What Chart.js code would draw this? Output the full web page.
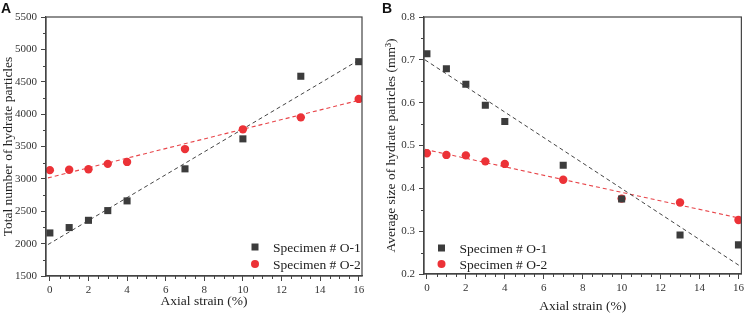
<!DOCTYPE html>
<html>
<head>
<meta charset="utf-8">
<script src="https://cdn.jsdelivr.net/npm/chart.js@4/dist/chart.umd.min.js"></script>
<style>
  html, body { margin: 0; padding: 0; background: #fff; }
  #wrap { position: relative; width: 747px; height: 318px; }
  canvas { position: absolute; top: 0; }
  #cA { left: 0; }
  #cB { left: 374px; }
  .tag { position: absolute; top: 0; font: bold 14px "Liberation Sans", Arial, sans-serif; color: #111; }
</style>
</head>
<body>
<div id="wrap">
  <canvas id="cA" width="373" height="318"></canvas>
  <canvas id="cB" width="373" height="318"></canvas>
  <div class="tag" style="left:1px">A</div>
  <div class="tag" style="left:382px">B</div>
</div>
<script>
const strain = [0, 1, 2, 3, 4, 7, 10, 13, 16];
const countO1 = [2165, 2248, 2360, 2510, 2660, 3155, 3618, 4585, 4810];
const countO2 = [3135, 3140, 3148, 3232, 3262, 3460, 3765, 3950, 4235];
const sizeO1 = [0.714, 0.679, 0.643, 0.594, 0.556, 0.454, 0.375, 0.291, 0.268];
const sizeO2 = [0.482, 0.478, 0.477, 0.463, 0.457, 0.420, 0.376, 0.367, 0.326];

const fitX = [-0.1, 16.1];
const fitCountO1 = [1985, 4850];
const fitCountO2 = [3015, 4220];
const fitSizeO1 = [0.700, 0.218];
const fitSizeO2 = [0.491, 0.330];

const xTicks = [0, 2, 4, 6, 8, 10, 12, 14, 16];
const yTicksA = [1500, 2000, 2500, 3000, 3500, 4000, 4500, 5000, 5500];
const yTicksB = [0.2, 0.3, 0.4, 0.5, 0.6, 0.7, 0.8];

const seriesNames = ['Specimen # O-1', 'Specimen # O-2'];
const SERIF = '"Liberation Serif", "Times New Roman", serif';
const AXIS = '#444';
const GRAY = '#3c3c3c';
const RED = '#ec3237';

const pts = (xs, ys) => xs.map((x, i) => ({ x: x, y: ys[i] }));

// frame, minor ticks and the inside legend
const extras = {
  id: 'extras',
  afterDraw(chart, args, opts) {
    const { ctx, chartArea: a, scales } = chart;
    ctx.save();
    ctx.strokeStyle = AXIS;
    ctx.lineWidth = 1.2;
    ctx.strokeRect(a.left, a.top, a.right - a.left, a.bottom - a.top);

    ctx.lineWidth = 1;
    ctx.beginPath();
    for (let v = 0; v <= 16; v += 0.5) {
      if (v % 2 === 0) continue;
      const px = Math.round(scales.x.getPixelForValue(v)) + 0.5;
      ctx.moveTo(px, a.bottom);
      ctx.lineTo(px, a.bottom + 3);
    }
    const yt = opts.yTicks;
    const half = (yt[1] - yt[0]) / 2;
    for (let i = 0; i < yt.length - 1; i++) {
      const py = Math.round(scales.y.getPixelForValue(yt[i] + half)) + 0.5;
      ctx.moveTo(a.left, py);
      ctx.lineTo(a.left - 3, py);
    }
    ctx.stroke();

    // legend
    const lx = opts.legendRight ? a.right - opts.legendX : a.left + opts.legendX;
    ctx.font = '13.5px ' + SERIF;
    ctx.textBaseline = 'middle';
    [0, 1].forEach(i => {
      const ds = chart.data.datasets[i];
      const ly = a.bottom - opts.legendY[i];
      ctx.fillStyle = ds.backgroundColor;
      if (ds.pointStyle === 'rect') {
        ctx.fillRect(lx - 3.5, ly - 3.5, 7, 7);
      } else {
        ctx.beginPath();
        ctx.arc(lx, ly, 4, 0, Math.PI * 2);
        ctx.fill();
      }
      ctx.fillStyle = '#222';
      ctx.fillText(ds.label, lx + 18, ly + 1);
    });
    ctx.restore();
  }
};

function makeChart(id, o1, o2, f1, f2, yMin, yMax, yTicks, yTitle, cfg) {
  return new Chart(document.getElementById(id), {
    type: 'scatter',
    data: {
      datasets: [
        { label: seriesNames[0], data: pts(strain, o1), pointStyle: 'rect', pointRadius: 5,
          backgroundColor: GRAY, borderColor: GRAY, borderWidth: 0 },
        { label: seriesNames[1], data: pts(strain, o2), pointStyle: 'circle', pointRadius: 4.2,
          backgroundColor: RED, borderColor: RED, borderWidth: 0 },
        { type: 'line', data: pts(fitX, f1), borderColor: '#444', borderWidth: 1,
          borderDash: [4, 3], pointRadius: 0, fill: false },
        { type: 'line', data: pts(fitX, f2), borderColor: '#e8454a', borderWidth: 1.1,
          borderDash: [4, 3], pointRadius: 0, fill: false }
      ]
    },
    options: {
      responsive: false,
      animation: false,
      layout: { padding: { top: 17, right: cfg.padRight, left: 0, bottom: 0 } },
      plugins: {
        legend: { display: false },
        tooltip: { enabled: false },
        extras: { yTicks: yTicks, legendX: cfg.legendX, legendRight: cfg.legendRight, legendY: cfg.legendY }
      },
      scales: {
        x: {
          type: 'linear', min: cfg.xMin, max: cfg.xMax,
          afterBuildTicks: s => { s.ticks = xTicks.map(v => ({ value: v })); },
          afterFit: s => { s.height = cfg.xHeight; },
          grid: { drawOnChartArea: false, drawTicks: true, tickLength: 5, color: AXIS },
          border: { display: true, color: AXIS, width: 1.2 },
          ticks: { color: '#333', padding: 3, font: { family: SERIF, size: 11 } },
          title: { display: true, text: 'Axial strain (%)', color: '#222',
            font: { family: SERIF, size: 13.5 }, padding: { top: 0, bottom: cfg.xTitlePad } }
        },
        y: {
          type: 'linear', min: yMin, max: yMax,
          afterBuildTicks: s => { s.ticks = yTicks.map(v => ({ value: v })); },
          afterFit: s => { s.width = cfg.yWidth; },
          grid: { drawOnChartArea: false, drawTicks: true, tickLength: 5, color: AXIS },
          border: { display: true, color: AXIS, width: 1.2 },
          ticks: { color: '#333', padding: 4, font: { family: SERIF, size: 11 },
            callback: v => cfg.decimals ? v.toFixed(1) : v },
          title: { display: true, text: yTitle, color: '#222',
            font: { family: SERIF, size: 13.5 }, padding: { top: cfg.yTitlePad, bottom: 0 } }
        }
      }
    },
    plugins: [extras]
  });
}

makeChart('cA', countO1, countO2, fitCountO1, fitCountO2, 1500, 5500, yTicksA,
  'Total number of hydrate particles',
  { padRight: 11, xMin: -0.2, xMax: 16.17, xHeight: 42, yWidth: 46, yTitlePad: 0,
    xTitlePad: 8, legendX: 107, legendRight: true, legendY: [29, 12], decimals: false });

makeChart('cB', sizeO1, sizeO2, fitSizeO1, fitSizeO2, 0.2, 0.8, yTicksB,
  'Average size of hydrate particles (mm³)',
  { padRight: 4, xMin: -0.15, xMax: 16.15, xHeight: 44, yWidth: 50, yTitlePad: 9,
    xTitlePad: 3, legendX: 17.5, legendRight: false, legendY: [26, 10], decimals: true });
</script>
</body>
</html>
